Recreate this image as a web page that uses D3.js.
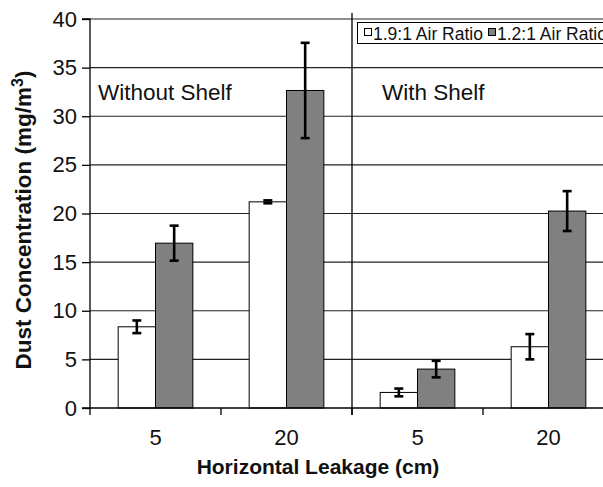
<!DOCTYPE html>
<html>
<head>
<meta charset="utf-8">
<script src="https://cdn.jsdelivr.net/npm/d3@7"></script>
<style>
  html, body { margin: 0; padding: 0; background: #fff; }
  svg { display: block; font-family: "Liberation Sans", Arial, sans-serif; }
</style>
</head>
<body>
<svg id="chart" width="603" height="487"></svg>
<script>
// ---- data ----
const categories = ["5", "20", "5", "20"];
const panels = ["Without Shelf", "With Shelf"];
const seriesNames = ["1.9:1 Air Ratio", "1.2:1 Air Ratio"];
const ratio19 = [8.35, 21.2, 1.6, 6.3];
const ratio19Err = [0.65, 0.15, 0.4, 1.3];
const ratio12 = [16.95, 32.65, 4.0, 20.25];
const ratio12Err = [1.8, 4.9, 0.85, 2.05];
const yTicks = [0, 5, 10, 15, 20, 25, 30, 35, 40];

(function () {
// ---- layout ----
const svg = d3.select("#chart");
const pLeft = 90, pRight = 614, pTop = 19, pBottom = 408;
const colors = ["#ffffff", "#808080"];

const y = d3.scaleLinear().domain([0, 40]).range([pBottom, pTop]);
const x0 = d3.scaleBand().domain(d3.range(categories.length)).range([pLeft, pRight]).padding(0);
const groupW = x0.bandwidth() * 0.57;
const x1 = d3.scaleBand().domain(d3.range(seriesNames.length)).range([0, groupW]).padding(0);
const groupOff = (x0.bandwidth() - groupW) / 2;

const values = [ratio19, ratio12];
const errs = [ratio19Err, ratio12Err];

// gridlines
svg.append("g").selectAll("line").data(yTicks.filter(d => d > 0)).join("line")
  .attr("x1", pLeft).attr("x2", pRight)
  .attr("y1", d => y(d)).attr("y2", d => y(d))
  .attr("stroke", "#222").attr("stroke-width", 1.2);

// y axis
const yAxis = d3.axisLeft(y).tickValues(yTicks).tickSize(8).tickPadding(5);
const gy = svg.append("g").attr("transform", `translate(${pLeft},0)`).call(yAxis);
gy.select(".domain").attr("stroke", "#000").attr("stroke-width", 1.3).attr("d", `M-8,${pBottom}H0V${pTop}H-8`);
gy.selectAll(".tick line").attr("stroke", "#000").attr("stroke-width", 1.3);
gy.selectAll(".tick text").attr("font-size", 22).attr("fill", "#111")
  .attr("font-family", "'Liberation Sans', Arial, sans-serif");

// bars
const bars = [];
categories.forEach((c, i) => {
  seriesNames.forEach((s, j) => {
    bars.push({ i, j, v: values[j][i], e: errs[j][i] });
  });
});
svg.append("g").selectAll("rect").data(bars).join("rect")
  .attr("x", d => x0(d.i) + groupOff + x1(d.j))
  .attr("width", x1.bandwidth())
  .attr("y", d => y(d.v))
  .attr("height", d => y(0) - y(d.v))
  .attr("fill", d => colors[d.j])
  .attr("stroke", "#000").attr("stroke-width", 1);

// error bars
const eg = svg.append("g").attr("stroke", "#000").attr("stroke-width", 2.6);
bars.forEach(d => {
  const cx = x0(d.i) + groupOff + x1(d.j) + x1.bandwidth() / 2;
  eg.append("line").attr("x1", cx).attr("x2", cx).attr("y1", y(d.v + d.e)).attr("y2", y(d.v - d.e));
  eg.append("line").attr("x1", cx - 4.5).attr("x2", cx + 4.5).attr("y1", y(d.v + d.e)).attr("y2", y(d.v + d.e));
  eg.append("line").attr("x1", cx - 4.5).attr("x2", cx + 4.5).attr("y1", y(d.v - d.e)).attr("y2", y(d.v - d.e));
});

// x axis
const boundaries = d3.range(categories.length + 1).map(k => pLeft + k * x0.bandwidth());
svg.append("line").attr("x1", pLeft).attr("x2", pRight).attr("y1", pBottom).attr("y2", pBottom)
  .attr("stroke", "#000").attr("stroke-width", 1.3);
svg.append("g").selectAll("line").data(boundaries).join("line")
  .attr("x1", d => d).attr("x2", d => d).attr("y1", pBottom).attr("y2", pBottom + 7)
  .attr("stroke", "#000").attr("stroke-width", 1.3);
svg.append("g").selectAll("text").data(categories).join("text")
  .attr("x", (d, i) => x0(i) + x0.bandwidth() / 2)
  .attr("y", 445)
  .attr("text-anchor", "middle")
  .attr("font-size", 22).attr("fill", "#111")
  .text(d => d);

// panel divider
const divX = x0(2);
svg.append("line").attr("x1", divX).attr("x2", divX).attr("y1", 13).attr("y2", pBottom + 7)
  .attr("stroke", "#000").attr("stroke-width", 1.3);

// panel labels
svg.append("text").attr("x", 98).attr("y", 100).attr("font-size", 22.5).attr("fill", "#111").text(panels[0]);
svg.append("text").attr("x", 382).attr("y", 100).attr("font-size", 22.5).attr("fill", "#111").text(panels[1]);

// axis titles
svg.append("text").attr("x", 318).attr("y", 474).attr("text-anchor", "middle")
  .attr("font-size", 21).attr("font-weight", "bold").attr("fill", "#111")
  .text("Horizontal Leakage (cm)");
const yt = svg.append("text").attr("transform", "translate(30.5,220) rotate(-90)")
  .attr("text-anchor", "middle").attr("font-size", 22.5).attr("font-weight", "bold").attr("fill", "#111");
yt.append("tspan").text("Dust Concentration (mg/m");
yt.append("tspan").attr("dy", -8).attr("font-size", 16).text("3");
yt.append("tspan").attr("dy", 8).text(")");

// legend
const lg = svg.append("g");
lg.append("rect").attr("x", 357.5).attr("y", 22.5).attr("width", 270).attr("height", 21)
  .attr("fill", "#fff").attr("stroke", "#000").attr("stroke-width", 1);
const legX = [364, 488];
seriesNames.forEach((s, j) => {
  lg.append("rect").attr("x", legX[j] + 0.5).attr("y", 28.5).attr("width", 7).attr("height", 7)
    .attr("fill", colors[j]).attr("stroke", "#000").attr("stroke-width", 1);
  lg.append("text").attr("x", legX[j] + 9).attr("y", 40).attr("font-size", 17.5).attr("fill", "#111").text(s);
});
})();
</script>
</body>
</html>
